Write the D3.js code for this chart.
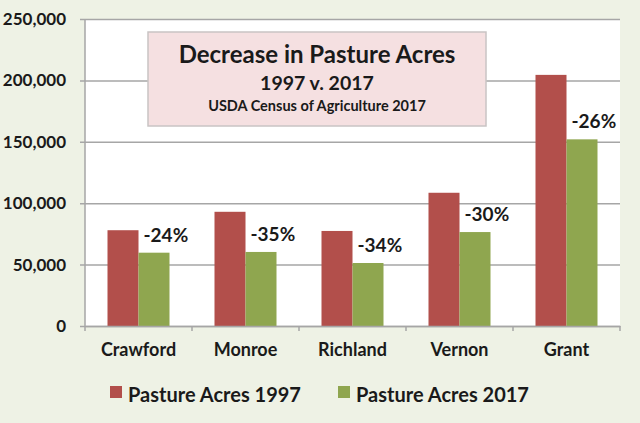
<!DOCTYPE html>
<html>
<head>
<meta charset="utf-8">
<script src="https://cdn.jsdelivr.net/npm/d3@7"></script>
<style>
  body { margin: 0; background: #eef2e5; }
  svg { display: block; font-family: Lato, "Open Sans", sans-serif; font-weight: bold; }
</style>
</head>
<body>
<svg id="chart" width="640" height="423"></svg>
<script>
// data
var counties = ["Crawford", "Monroe", "Richland", "Vernon", "Grant"];
var acres1997 = [78000, 93000, 77400, 108500, 204500];
var acres2017 = [59700, 60300, 51300, 76500, 152000];
var pctLabels = ["-24%", "-35%", "-34%", "-30%", "-26%"];
var yTicks = [0, 50000, 100000, 150000, 200000, 250000];
var seriesNames = ["Pasture Acres 1997", "Pasture Acres 2017"];
var colors = ["#b24f4b", "#8fa64f"];

var svg = d3.select("#chart");
var plotL = 85, plotR = 620, plotT = 19, plotB = 326;

// plot area
svg.append("rect").attr("x", plotL).attr("y", plotT).attr("width", plotR - plotL).attr("height", plotB - plotT).attr("fill", "#fff");

var y = d3.scaleLinear().domain([0, 250000]).range([plotB, plotT]);
var x0 = d3.scaleBand().domain(counties).range([plotL, plotR]).paddingInner(0).paddingOuter(0);
var x1 = d3.scaleBand().domain([0, 1]).range([22.5, x0.bandwidth() - 22.5]);

// gridlines + y labels
var axisY = d3.axisLeft(y).tickValues(yTicks).tickSize(-(plotR - plotL) - 5).tickPadding(14).tickFormat(d3.format(","));
var gy = svg.append("g").attr("transform", "translate(" + (plotL - 5) + ",0)").call(axisY);
gy.select(".domain").remove();
gy.selectAll(".tick line").attr("stroke", "#a6a6a6").attr("stroke-width", 1.5);
gy.selectAll(".tick text").attr("font-size", 17).attr("fill", "#1a1a1a").attr("font-family", "Lato").attr("x", -14);

// y axis line
svg.append("line").attr("x1", plotL).attr("x2", plotL).attr("y1", plotT).attr("y2", plotB).attr("stroke", "#a6a6a6").attr("stroke-width", 1.5);

// bars
var groups = svg.selectAll(".grp").data(counties).enter().append("g")
  .attr("transform", function(d) { return "translate(" + x0(d) + ",0)"; });
groups.append("rect").attr("x", x1(0)).attr("width", x1.bandwidth())
  .attr("y", function(d, i) { return y(acres1997[i]); })
  .attr("height", function(d, i) { return plotB - y(acres1997[i]); })
  .attr("fill", colors[0]);
groups.append("rect").attr("x", x1(1)).attr("width", x1.bandwidth())
  .attr("y", function(d, i) { return y(acres2017[i]); })
  .attr("height", function(d, i) { return plotB - y(acres2017[i]); })
  .attr("fill", colors[1]);
groups.append("text").attr("x", x1(1) + 5)
  .attr("y", function(d, i) { return y(acres2017[i]) - 11; })
  .attr("font-size", 19).attr("fill", "#1a1a1a")
  .text(function(d, i) { return pctLabels[i]; });

// x axis
var axisX = d3.axisBottom(x0).tickSize(0).tickPadding(17);
var gx = svg.append("g").attr("transform", "translate(0," + plotB + ")").call(axisX);
gx.select(".domain").attr("stroke", "#a6a6a6").attr("stroke-width", 1.5);
gx.selectAll(".tick text").attr("font-size", 18).attr("fill", "#1a1a1a").attr("font-family", "Lato");
// band boundary ticks
gx.selectAll(".sep").data(d3.range(counties.length + 1)).enter().append("line")
  .attr("x1", function(i) { return plotL + i * x0.step(); })
  .attr("x2", function(i) { return plotL + i * x0.step(); })
  .attr("y1", 0).attr("y2", 5).attr("stroke", "#a6a6a6").attr("stroke-width", 1.5);

// title box
svg.append("rect").attr("x", 148).attr("y", 32).attr("width", 338).attr("height", 94)
  .attr("fill", "#f5e0e1").attr("stroke", "#c9c4c4").attr("stroke-width", 1.5);
svg.append("text").attr("x", 317).attr("y", 63).attr("text-anchor", "middle").attr("font-size", 24).attr("fill", "#1a1a1a").text("Decrease in Pasture Acres");
svg.append("text").attr("x", 317).attr("y", 90).attr("text-anchor", "middle").attr("font-size", 19.5).attr("fill", "#1a1a1a").text("1997 v. 2017");
svg.append("text").attr("x", 317).attr("y", 111).attr("text-anchor", "middle").attr("font-size", 14.5).attr("fill", "#1a1a1a").text("USDA Census of Agriculture 2017");

// legend
var legX = [110, 338];
var leg = svg.selectAll(".leg").data(seriesNames).enter().append("g")
  .attr("transform", function(d, i) { return "translate(" + legX[i] + ",386)"; });
leg.append("rect").attr("width", 12).attr("height", 12).attr("fill", function(d, i) { return colors[i]; });
leg.append("text").attr("x", 18).attr("y", 16).attr("font-size", 20).attr("fill", "#1a1a1a").text(function(d) { return d; });
</script>
</body>
</html>
